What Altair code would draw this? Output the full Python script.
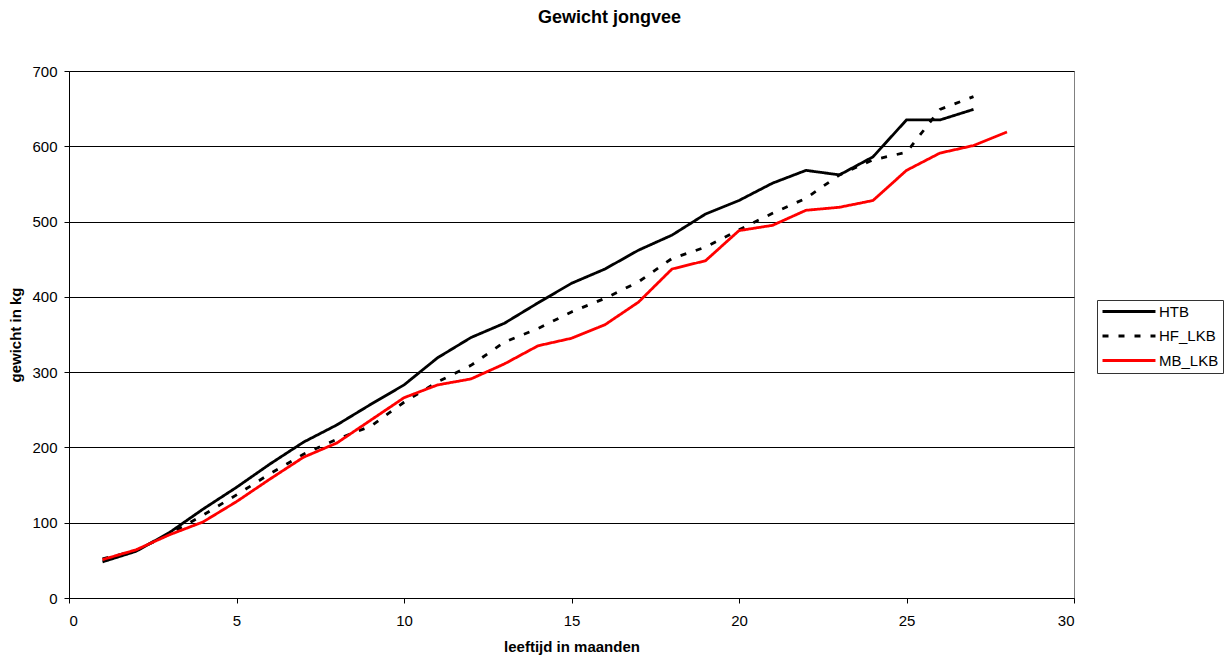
import altair as alt
import pandas as pd

# Weight of young stock (kg) per month of age, three breeds/groups
months_htb = list(range(1, 28))
htb = [48, 62, 87, 118, 147, 178, 207, 230, 257, 283, 319, 346, 365, 392, 418,
       437, 462, 482, 510, 528, 551, 568, 562, 586, 635, 635, 649]

months_hf = list(range(1, 28))
hf_lkb = [52, 63, 85, 110, 137, 165, 191, 211, 228, 260, 287, 309, 340, 358, 380,
          398, 420, 451, 466, 489, 511, 531, 562, 582, 592, 649, 666]

months_mb = list(range(1, 29))
mb_lkb = [51, 64, 84, 101, 128, 158, 187, 206, 236, 266, 283, 291, 311, 335, 345,
          363, 393, 437, 448, 488, 495, 515, 519, 528, 568, 591, 601, 619]

series_names = ["HTB", "HF_LKB", "MB_LKB"]
series_colors = ["#000000", "#000000", "#FF0000"]
series_dashes = [[1, 0], [6, 10], [1, 0]]

rows = []
for order, (name, xs, ys) in enumerate(
        [("HTB", months_htb, htb), ("HF_LKB", months_hf, hf_lkb), ("MB_LKB", months_mb, mb_lkb)]):
    for x, y in zip(xs, ys):
        rows.append({"maand": x, "gewicht": y, "reeks": name, "volgorde": order})
df = pd.DataFrame(rows)

FONT = "Liberation Sans"

# Long horizontal legend swatch: a short nominal symbol size keeps the rows
# compact, while the path itself runs well to the right of its centre.
legend_cfg = dict(
    title=None,
    orient="none",
    legendX=1028,
    legendY=229,
    symbolType="M-1,0H7.83",
    symbolSize=144,
    symbolStrokeWidth=2.8,
    labelOffset=43,
    rowPadding=8.5,
    padding=4,
    strokeColor="#333333",
    fillColor="#FFFFFF",
)

chart = (
    alt.Chart(df)
    .mark_line(strokeWidth=2.8, strokeCap="butt")
    .encode(
        x=alt.X(
            "maand:Q",
            scale=alt.Scale(domain=[0, 30], nice=False, zero=True),
            axis=alt.Axis(
                title="leeftijd in maanden",
                values=[0, 5, 10, 15, 20, 25, 30],
                grid=False,
                tickSize=5,
                labelPadding=10,
                titlePadding=11,
            ),
        ),
        y=alt.Y(
            "gewicht:Q",
            scale=alt.Scale(domain=[0, 700], nice=False),
            axis=alt.Axis(
                title="gewicht in kg",
                values=[0, 100, 200, 300, 400, 500, 600, 700],
                grid=True,
                gridColor="#000000",
                gridWidth=1,
                gridOpacity=1,
                tickSize=5,
                labelPadding=7,
                titlePadding=8,
            ),
        ),
        color=alt.Color(
            "reeks:N",
            scale=alt.Scale(domain=series_names, range=series_colors),
            legend=alt.Legend(**legend_cfg),
        ),
        strokeDash=alt.StrokeDash(
            "reeks:N",
            scale=alt.Scale(domain=series_names, range=series_dashes),
            legend=alt.Legend(**legend_cfg),
        ),
        order=alt.Order("volgorde:Q"),
    )
    .properties(
        width=1005,
        height=527,
        title=alt.TitleParams(
            "Gewicht jongvee",
            fontSize=18,
            fontWeight="bold",
            font=FONT,
            color="#000000",
            anchor="middle",
            offset=23,
            dx=38,
            baseline="alphabetic",
        ),
        autosize=alt.AutoSizeParams(type="none"),
        padding={"left": 69, "top": 71, "right": 151, "bottom": 58},
    )
    .configure(background="#FFFFFF")
    .configure_view(stroke="#808080", strokeWidth=1)
    .configure_axis(
        labelFont=FONT,
        labelFontSize=15,
        labelColor="#000000",
        titleFont=FONT,
        titleFontSize=15,
        titleFontWeight="bold",
        titleColor="#000000",
        domainColor="#000000",
        domainWidth=1,
        tickColor="#000000",
        tickWidth=1,
    )
    .configure_legend(
        labelFont=FONT,
        labelFontSize=15,
        labelColor="#000000",
    )
)

chart.save("out.html", embed_options={"renderer": "svg", "actions": False})
